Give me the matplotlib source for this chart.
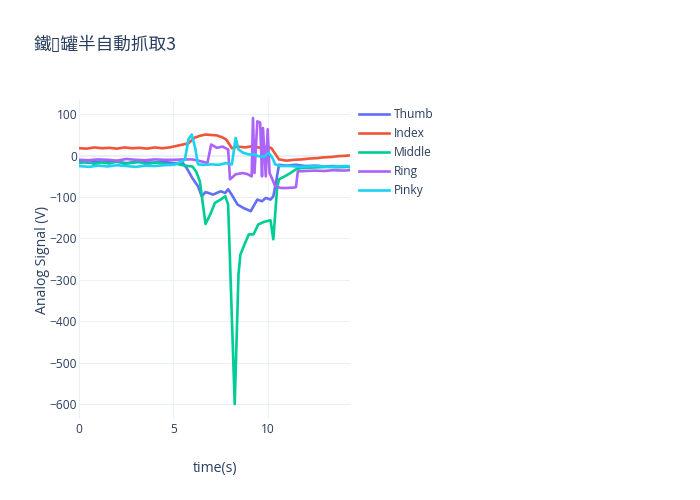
import matplotlib.pyplot as plt

# readings taken off the reference chart
thumb_t = [0, 0.5, 1.0, 1.5, 2.0, 2.5, 3.0, 3.5, 4.0, 4.5, 5.0, 5.5, 5.7, 6.0, 6.3,
           6.5, 6.7, 6.85, 7.1, 7.3, 7.5, 7.75, 7.9, 8.1, 8.4, 8.7, 9.1, 9.45, 9.7,
           9.9, 10.15, 10.3, 10.45, 10.6, 11.0, 11.5, 12.0, 12.5, 13.0, 13.5, 14.0, 14.4]
thumb_v = [-15, -17, -14, -16, -15, -18, -15, -16, -17, -15, -18, -18, -30, -54, -74,
           -98, -88, -90, -94, -90, -86, -90, -81, -95, -118, -126, -134, -106, -110,
           -102, -106, -98, -62, -22, -24, -22, -25, -24, -26, -25, -27, -26]

index_t = [0, 0.4, 0.8, 1.2, 1.6, 2.0, 2.4, 2.8, 3.2, 3.6, 4.0, 4.4, 4.8, 5.2, 5.5,
           5.8, 6.1, 6.4, 6.7, 7.0, 7.3, 7.6, 7.8, 8.1, 8.4, 8.8, 9.2, 9.6, 10.0, 10.2,
           10.6, 11.0, 11.4, 11.8, 12.2, 12.6, 13.0, 13.4, 13.8, 14.2, 14.4]
index_v = [18, 17, 20, 18, 19, 17, 20, 18, 19, 17, 20, 18, 20, 24, 27,
           30, 43, 48, 51, 50, 49, 44, 39, 18, 22, 20, 23, 19, 22, 18,
           -9, -12, -10, -9, -7, -6, -4, -3, -1, 0, 1]

middle_t = [0, 0.4, 0.8, 1.2, 1.6, 2.0, 2.4, 2.8, 3.2, 3.6, 4.0, 4.4, 4.8, 5.2, 5.6,
            6.0, 6.2, 6.4, 6.7, 6.95, 7.2, 7.5, 7.75, 7.9, 8.25, 8.45, 8.55, 8.8, 9.0,
            9.25, 9.5, 9.8, 10.15, 10.3, 10.5, 10.6, 10.9, 11.2, 11.5, 11.75, 12.2,
            12.7, 13.2, 13.7, 14.2, 14.4]
middle_v = [-18, -14, -20, -16, -19, -13, -20, -17, -15, -21, -16, -19, -22, -20, -24,
            -26, -38, -62, -165, -142, -114, -106, -98, -118, -600, -287, -239, -211, -190,
            -190, -166, -160, -156, -202, -78, -57, -50, -42, -33, -30, -29,
            -28, -27, -28, -27, -28]

ring_t = [0, 0.5, 1.0, 1.5, 2.0, 2.5, 3.0, 3.5, 4.0, 4.5, 5.0, 5.5, 6.0, 6.3, 6.6,
          6.8, 7.0, 7.3, 7.6, 7.9, 8.0, 8.3, 8.65, 8.9, 9.15, 9.22, 9.3, 9.45, 9.6,
          9.7, 9.75, 9.9, 10.0, 10.1, 10.25, 10.4, 10.7, 11.0, 11.4, 11.5, 11.6, 12.0,
          12.5, 13.0, 13.5, 14.0, 14.4]
ring_v = [-10, -11, -9, -10, -12, -8, -10, -11, -9, -10, -10, -9, -9, -12, -15,
          -18, 27, 19, 22, 15, -57, -45, -42, -44, -50, 91, -42, 83, 80,
          -50, 67, -50, 64, -42, -57, -74, -78, -78, -77, -76, -38, -37,
          -36, -37, -35, -36, -35]

pinky_t = [0, 0.5, 1.0, 1.5, 2.0, 2.5, 3.0, 3.5, 4.0, 4.5, 5.0, 5.45, 5.6, 5.8, 5.97,
           6.15, 6.3, 6.6, 7.0, 7.4, 7.8, 8.1, 8.3, 8.45, 8.7, 9.0, 9.25, 9.5, 9.8,
           10.05, 10.25, 10.4, 10.7, 11.2, 11.7, 12.2, 12.7, 13.2, 13.7, 14.2, 14.4]
pinky_v = [-25, -27, -24, -26, -23, -25, -27, -24, -25, -23, -22, -14, -10, 40, 51,
           19, -21, -22, -21, -22, -18, -21, 43, 15, 7, 3, 3, -1, -3,
           7, -5, -21, -25, -25, -27, -26, -25, -27, -26, -25, -26]

names = ['Thumb', 'Index', 'Middle', 'Ring', 'Pinky']
colors = ['#636efa', '#EF553B', '#00cc96', '#ab63fa', '#19d3f3']
series = [(thumb_t, thumb_v), (index_t, index_v), (middle_t, middle_v),
          (ring_t, ring_v), (pinky_t, pinky_v)]

plt.rcParams['font.family'] = ['Open Sans', 'DejaVu Sans']
txt = '#2a3f5f'
grid = '#EBF0F8'

fig = plt.figure(figsize=(7, 5), dpi=100)
ax = fig.add_axes([0.1133, 0.1614, 0.5 - 0.1133, 0.8 - 0.1614])

for (t, v), name, c in zip(series, names, colors):
    ax.plot(t, v, color=c, lw=1.9, label=name, solid_joinstyle='round', zorder=3)

ax.set_xlim(0, 14.37)
ax.set_ylim(-636.7, 134.5)
ax.set_xticks([0, 5, 10])
ax.set_yticks([100, 0, -100, -200, -300, -400, -500, -600])
ax.grid(True, color=grid, lw=0.72, zorder=0)
ax.axhline(0, color=grid, lw=1.44, zorder=1)
ax.axvline(0, color=grid, lw=1.44, zorder=1)
for s in ax.spines.values():
    s.set_visible(False)
ax.tick_params(length=0, labelsize=8.64, labelcolor=txt)
ax.tick_params(axis='y', pad=1.5)
ax.tick_params(axis='x', pad=3)

ax.set_xlabel('time(s)', fontsize=10.08, color=txt, labelpad=18)
ax.set_ylabel('Analog Signal (V)', fontsize=10.08, color=txt, labelpad=0)

fig.text(33 / 700, 1 - 45 / 500, '鐵▯罐半自動抓取3', fontsize=12.7, color=txt,
         va='center', ha='left', family=['Noto Sans CJK TC', 'DejaVu Sans'])

leg = ax.legend(loc='upper left', bbox_to_anchor=(1.02, 0.985), frameon=False,
                fontsize=8.64, handlelength=2.5, handletextpad=0.4,
                labelspacing=0.5, borderaxespad=0, borderpad=0.3)
for t in leg.get_texts():
    t.set_color(txt)

fig.savefig('out.png', dpi=100)
